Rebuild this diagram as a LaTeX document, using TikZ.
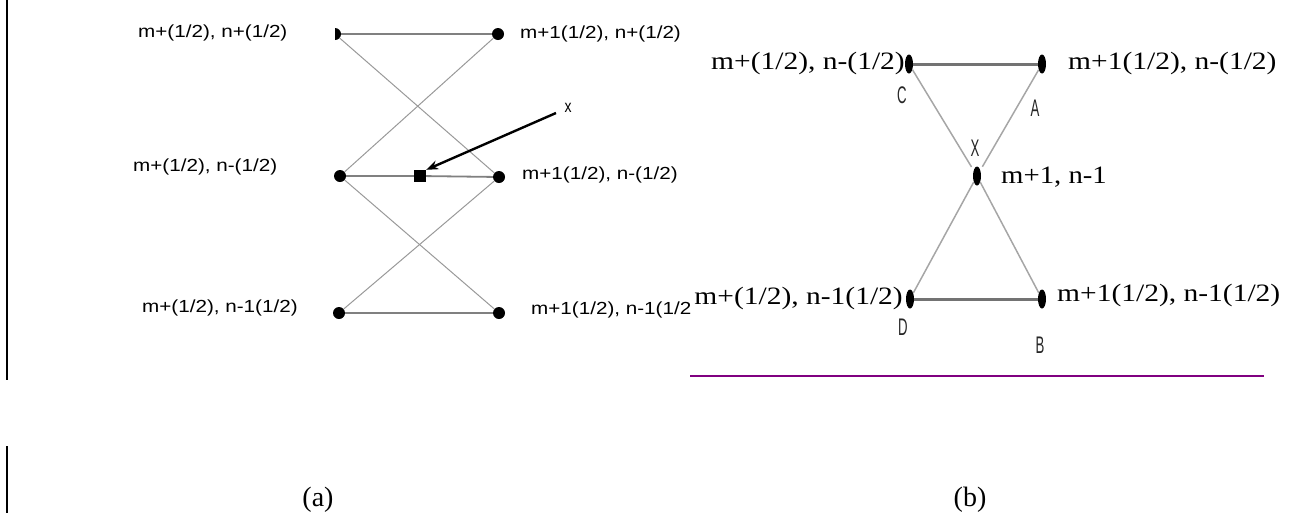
\documentclass[tikz,border=0pt]{standalone}
\usepackage{graphicx}
\usepackage{fontspec}
\setmainfont{Liberation Serif}
\newfontfamily\lsans{Liberation Sans}
\usetikzlibrary{shapes.geometric,arrows.meta}
\newcommand\stretchx[2]{\scalebox{#1}[1]{#2}}
\definecolor{purp}{RGB}{128,0,128}
\begin{document}
\begin{tikzpicture}[x=1pt,y=-1pt,
  adot/.style={circle,fill=black,inner sep=0pt,minimum size=12pt},
  bdot/.style={ellipse,fill=black,inner sep=0pt,minimum width=8pt,minimum height=19pt},
  alab/.style={inner sep=0pt,font=\lsans\fontsize{17.5}{19}\selectfont},
  blab/.style={inner sep=0pt,font=\fontsize{25}{28}\selectfont},
  letter/.style={inner sep=0pt,text=black!85,font=\lsans\fontsize{24}{26}\selectfont},
  hline/.style={draw=black!50,line width=1.8pt},
  dline/.style={draw=black!40,line width=1pt},
  bhline/.style={draw=black!55,line width=3pt},
  bdline/.style={draw=black!35,line width=1.5pt},
  frame/.style={line width=2pt},
  caption/.style={inner sep=0pt,font=\fontsize{28}{30}\selectfont}]
\useasboundingbox (0,0) rectangle (1291,515);

% left frame lines
\coordinate (f1) at (7,0);
\coordinate (f2) at (7,380);
\coordinate (f3) at (7,446);
\coordinate (f4) at (7,513);
\draw[frame] (f1) -- (f2);
\draw[frame] (f3) -- (f4);

% ---------- (a) ----------
\node[circle,inner sep=0pt,minimum size=12pt] (tl) at (335,34) {};
\fill (335,28) arc (-90:90:6) -- cycle;
\node[adot] (tr) at (498,34) {};
\node[adot] (ml) at (340,176) {};
\node[adot] (mr) at (499,177) {};
\node[adot] (bl) at (339,313) {};
\node[adot] (br) at (499,313) {};
\node[rectangle,fill=black,inner sep=0pt,minimum size=12pt] (sq) at (420,176) {};

\draw[hline] (tl) -- (tr);
\draw[hline] (ml) -- (sq) -- (mr);
\draw[hline] (bl) -- (br);
\draw[dline] (tl) -- (mr);
\draw[dline] (tr) -- (ml);
\draw[dline] (ml) -- (br);
\draw[dline] (mr) -- (bl);

\coordinate (xt) at (556,113);
\draw[line width=2.4pt,-{Stealth[length=12pt,width=9pt]}] (xt) -- (sq.north east);
\node[alab] (xl) at (568,108) {\stretchx{0.8}{x}};

\node[alab,anchor=west] (l1) at (138,33) {\stretchx{1.18}{m+(1/2), n+(1/2)}};
\node[alab,anchor=west] (l2) at (520,34) {\stretchx{1.18}{m+1(1/2), n+(1/2)}};
\node[alab,anchor=west] (l3) at (133,167) {\stretchx{1.18}{m+(1/2), n-(1/2)}};
\node[alab,anchor=west] (l4) at (522,175) {\stretchx{1.18}{m+1(1/2), n-(1/2)}};
\node[alab,anchor=west] (l5) at (142,308) {\stretchx{1.18}{m+(1/2), n-1(1/2)}};
\node[alab,anchor=west] (l6) at (531,310) {\stretchx{1.18}{m+1(1/2), n-1(1/2}};

% ---------- (b) ----------
\node[bdot] (C) at (909,64) {};
\node[bdot] (A) at (1042,64) {};
\node[bdot] (X) at (977,176) {};
\node[bdot] (D) at (910,299) {};
\node[bdot] (B) at (1042,299) {};

\draw[bhline] (C) -- (A);
\draw[bhline] (D) -- (B);
\draw[bdline,shorten >=4pt] (C) -- (X);
\draw[bdline,shorten >=4pt] (A) -- (X);
\draw[bdline] (X) -- (D);
\draw[bdline] (X) -- (B);

\node[letter] (Cl) at (902,95) {\stretchx{0.55}{C}};
\node[letter] (Al) at (1035,108) {\stretchx{0.55}{A}};
\node[letter] (Xl) at (975,148) {\stretchx{0.55}{X}};
\node[letter] (Dl) at (903,327) {\stretchx{0.55}{D}};
\node[letter] (Bl) at (1040,345) {\stretchx{0.55}{B}};

\node[blab,anchor=east] (r1) at (905,63) {\stretchx{1.18}{m+(1/2), n-(1/2)}};
\node[blab,anchor=west] (r2) at (1068,63) {\stretchx{1.18}{m+1(1/2), n-(1/2)}};
\node[blab,anchor=west] (r3) at (1001,177) {\stretchx{1.15}{m+1, n-1}};
\node[blab,anchor=east] (r4) at (903,298) {\stretchx{1.18}{m+(1/2), n-1(1/2)}};
\node[blab,anchor=west] (r5) at (1057,295) {\stretchx{1.18}{m+1(1/2), n-1(1/2)}};

\coordinate (p1) at (690,376);
\coordinate (p2) at (1264,376);
\draw[purp,line width=2.5pt] (p1) -- (p2);

% captions
\node[caption] (ca) at (318,500) {(a)};
\node[caption] (cb) at (970,500) {(b)};
\end{tikzpicture}
\end{document}
